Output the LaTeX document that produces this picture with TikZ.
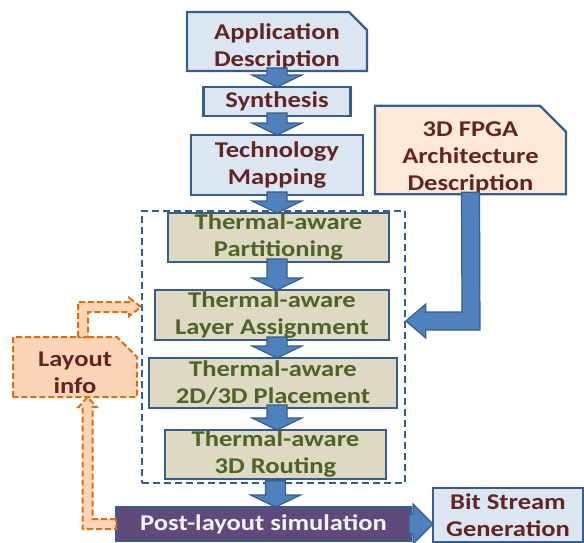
\documentclass[tikz,border=0pt]{standalone}
\usepackage{fontspec}
\setmainfont{Carlito}[FakeStretch=1.18]
\usepackage{xcolor}
\usetikzlibrary{backgrounds,calc,positioning}

\definecolor{boxline}{HTML}{385D8A}
\definecolor{paleblue}{HTML}{DCE6F2}
\definecolor{darkred}{HTML}{632523}
\definecolor{paletan}{HTML}{DDD9C3}
\definecolor{olivetext}{HTML}{4F6228}
\definecolor{peach}{HTML}{FDE9D9}
\definecolor{apricot}{HTML}{FBD5B5}
\definecolor{orangeline}{HTML}{E46C0A}
\definecolor{plum}{HTML}{604A7B}
\definecolor{simtext}{HTML}{F2F2F2}
\definecolor{arrowblue}{HTML}{4F81BD}

\tikzset{
  box/.style={draw=boxline, line width=2.2pt, inner sep=0pt, outer sep=0pt,
    align=center, font=\bfseries\fontsize{22.5}{27}\selectfont},
  boxsize/.style 2 args={minimum width=#1pt, minimum height=#2pt},
  bluebox/.style={box, fill=paleblue, text=darkred},
  tanbox/.style={box, fill=paletan, text=olivetext},
  simbox/.style={box, fill=plum, text=simtext},
  snipnode/.style={box, draw=none, fill=none, text=darkred},
  flowframe/.style={draw=boxline, line width=1.6pt, dash pattern=on 7pt off 4pt, inner sep=0pt},
  bigarrow/.style={fill=arrowblue, draw=boxline, line width=1.2pt},
  infoarrow/.style={fill=apricot, draw=orangeline, line width=2pt, dash pattern=on 6pt off 3pt},
}

% box with the top right corner cut off
\newcommand{\snipoutline}[3]{%
  \draw[#2] (#1.south west) -- (#1.north west) -- ([xshift=-#3pt]#1.north east)
    -- ([yshift=-#3pt]#1.north east) -- (#1.south east) -- cycle;}

% wide arrow straight down, on the axis of node #1
\newcommand{\flowdown}[3][app]{%
  \draw[bigarrow] ($(#1.south|-#2.south)+(-10,-3)$) -- ++(20,0)
    -- ($(#1.south|-#3.north)+(10,-12)$) -- ++(15,0) -- (#1.south|-#3.north)
    -- ++(-25,-12) -- ++(15,0) -- cycle;}

% pushes the text of a node down a little
\newcommand{\toproom}[1]{\rule{0pt}{#1pt}}

\begin{document}
\begin{tikzpicture}[x=1pt, y=-1pt]
  \useasboundingbox (0,0) rectangle (584,543);

  \node (flow) [flowframe, boxsize={263}{272}] at (273.5,347) {};

  \node (app) [snipnode, boxsize={180}{59}] at (277,41.5) {\toproom{26}Application\\Description};
  \node (synth) [bluebox, boxsize={147}{29}, below of=app, node distance=60pt] {Synthesis};
  \node (tech) [bluebox, boxsize={172}{60}, below of=synth, node distance=63.5pt] {Technology\\Mapping};
  \node (part) [tanbox, boxsize={221}{49}, below of=tech, node distance=72.5pt, xshift=1.5pt] {Thermal-aware\\Partitioning};
  \node (layer) [tanbox, boxsize={234}{50}, below of=part, node distance=77.5pt, xshift=-6.5pt] {Thermal-aware\\Layer Assignment};
  \node (place) [tanbox, boxsize={248}{50}, below of=layer, node distance=68pt, xshift=1pt] {Thermal-aware\\2D/3D Placement};
  \node (route) [tanbox, boxsize={221}{49}, below of=place, node distance=71.5pt, xshift=2.5pt] {Thermal-aware\\3D Routing};
  \node (post) [simbox, boxsize={295}{34}, below of=route, node distance=69.5pt, xshift=-12pt] {Post-layout simulation};
  \node (bit) [bluebox, boxsize={150}{54}] at (508,515) {Bit Stream\\Generation};

  \node (fpga) [snipnode, boxsize={191}{86}] at (470.5,150) {\toproom{31}3D FPGA\\Architecture\\Description};
  \node (layout) [snipnode, boxsize={124}{60}] at (75,367) {\toproom{27}Layout\\info};

  \begin{scope}[on background layer]
    \snipoutline{app}{fill=paleblue, draw=boxline, line width=2.2pt}{18}
    \snipoutline{fpga}{fill=peach, draw=boxline, line width=2.2pt}{26}
    \snipoutline{layout}{fill=apricot, draw=orangeline, line width=2pt, dash pattern=on 6pt off 3pt}{20}
  \end{scope}

  \flowdown{app}{synth}
  \flowdown{synth}{tech}
  \flowdown{tech}{part}
  \flowdown{part}{layer}
  \flowdown{layer}{place}
  \flowdown{place}{route}
  \flowdown[route]{flow}{post}

  % architecture into layer assignment
  \coordinate (fpgabend) at (471,321);
  \draw[bigarrow] ($(fpga.south)+(-9,-2)$) -- ($(fpga.south)+(9,-2)$) -- ($(fpgabend)+(9,9)$)
    -- ($(flow.east|-fpgabend)+(20,9)$) -- ++(0,8) -- (flow.east|-fpgabend)
    -- ++(20,-17) -- ++(0,8) -- ($(fpgabend)+(-9,-9)$) -- cycle;

  % simulation to bit stream
  \draw[bigarrow] ($(post.east)+(-2,-10)$) -- ($(bit.west|-post.east)+(-20,-10)$) -- ++(0,-10)
    -- (bit.west|-post.east) -- ++(-20,20) -- ++(0,-10) -- ($(post.east)+(-2,10)$) -- cycle;

  % layout feedback
  \coordinate (infoup) at (83,307);
  \coordinate (infodown) at (87.5,524);
  \draw[infoarrow] ($(layout.north-|infoup)+(-5,0)$) -- ($(infoup)+(-5,-5)$)
    -- ($(flow.west|-infoup)+(-12,-5)$) -- ++(0,-4) -- (flow.west|-infoup)
    -- ++(-12,9) -- ++(0,-4) -- ($(infoup)+(5,5)$) -- ($(layout.north-|infoup)+(5,0)$) -- cycle;
  \draw[infoarrow] ($(post.west)+(0,-5)$) -- ($(infodown)+(5,-5)$)
    -- ($(layout.south-|infodown)+(5,10)$) -- ++(4,0) -- (layout.south-|infodown)
    -- ++(-9,10) -- ++(4,0) -- ($(infodown)+(-5,5)$) -- ($(post.west)+(0,5)$) -- cycle;
\end{tikzpicture}
\end{document}
